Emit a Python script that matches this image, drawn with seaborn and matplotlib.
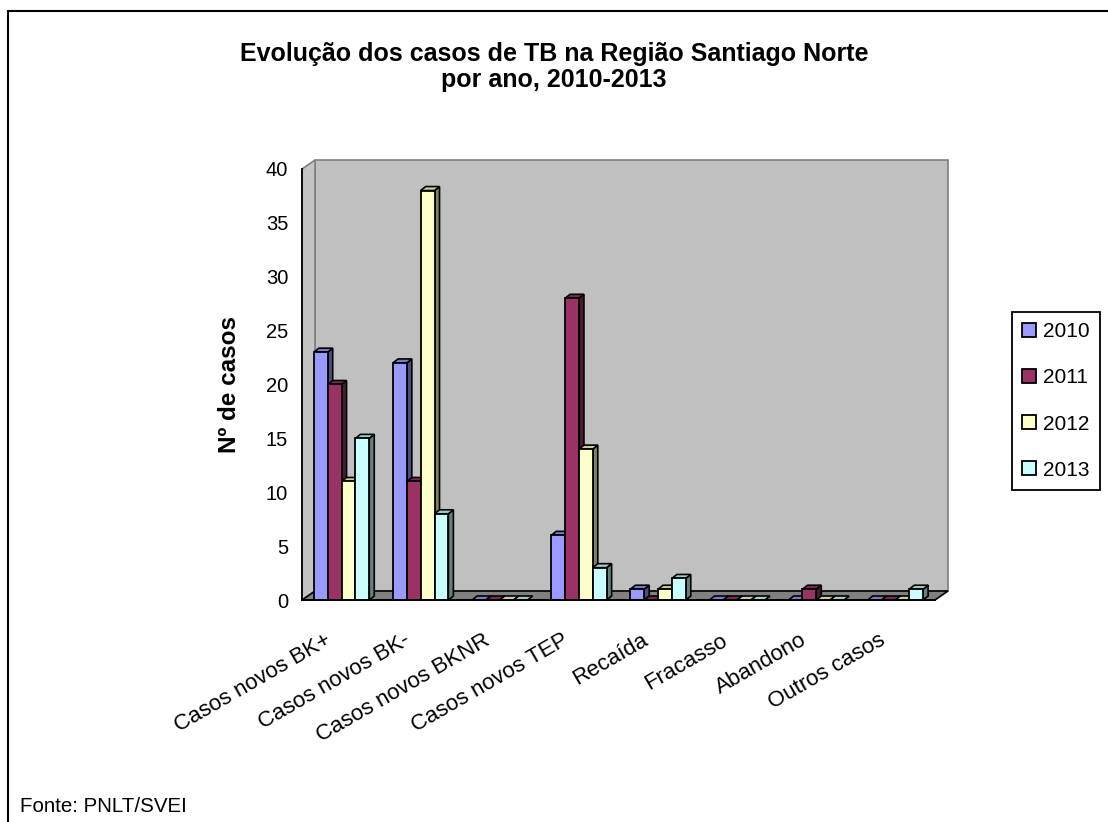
import matplotlib
matplotlib.use('Agg')
import matplotlib.pyplot as plt
import matplotlib.transforms as mtransforms
from matplotlib.patches import Polygon, Rectangle
import numpy as np
import pandas as pd
import seaborn as sns

# Data
categories = ['Casos novos BK+', 'Casos novos BK-', 'Casos novos BKNR', 'Casos novos TEP',
              'Recaída', 'Fracasso', 'Abandono', 'Outros casos']
years = ['2010', '2011', '2012', '2013']
cases_2010 = [23, 22, 0, 6, 1, 0, 0, 0]
cases_2011 = [20, 11, 0, 28, 0, 0, 1, 0]
cases_2012 = [11, 38, 0, 14, 1, 0, 0, 0]
cases_2013 = [15, 8, 0, 3, 2, 0, 0, 1]
colors = ['#9999ff', '#993366', '#ffffcc', '#ccffff']

rows = []
for yr, vals in zip(years, [cases_2010, cases_2011, cases_2012, cases_2013]):
    for cat, v in zip(categories, vals):
        rows.append({'categoria': cat, 'ano': yr, 'casos': v})
df = pd.DataFrame(rows)

sns.set_style('white')
plt.rcParams['font.family'] = ['Liberation Sans', 'DejaVu Sans']
plt.rcParams['text.color'] = 'black'
plt.rcParams['axes.labelcolor'] = 'black'
plt.rcParams['xtick.color'] = 'black'
plt.rcParams['ytick.color'] = 'black'

W, H = 1108, 822
fig = plt.figure(figsize=(W / 100, H / 100), dpi=100)
ax = fig.add_axes([302 / W, (H - 600) / H, (935 - 302) / W, (600 - 169) / H])
ax.set_facecolor('none')

sns.barplot(data=df, x='categoria', y='casos', hue='ano', hue_order=years,
            palette=colors, width=0.7, edgecolor='black', linewidth=1.3,
            saturation=1, ax=ax, legend=True)

ax.set_xlim(-0.5, len(categories) - 0.5)
ax.set_ylim(0, 40)
ax.set_yticks(range(0, 41, 5))
ax.set_xlabel('')
ax.set_ylabel('Nº de casos', fontsize=17.5, fontweight='bold', labelpad=18)

for s in ['top', 'right']:
    ax.spines[s].set_visible(False)
for s in ['left', 'bottom']:
    ax.spines[s].set_color('black')
    ax.spines[s].set_linewidth(1.3)
    ax.spines[s].set_zorder(20)

ax.tick_params(axis='y', direction='out', length=6, width=1.3, labelsize=14.5, pad=4)
ax.set_xticks(np.arange(-0.5, len(categories), 1.0), minor=True)
ax.tick_params(axis='x', which='minor', direction='out', length=7, width=1.3)
ax.tick_params(axis='x', which='major', length=0, labelsize=16)
off = mtransforms.ScaledTranslation(-0.17, -0.25, fig.dpi_scale_trans)
for lbl in ax.get_xticklabels():
    lbl.set_rotation(30)
    lbl.set_ha('right')
    lbl.set_va('top')
    lbl.set_rotation_mode('anchor')
    lbl.set_transform(lbl.get_transform() + off)

# pseudo-3D walls and floor
dx, dy = 13, 9
ident = mtransforms.IdentityTransform()
corners = ax.transAxes.transform([[0, 0], [1, 0], [1, 1], [0, 1]])
back = corners + [dx, dy]
wall_style = dict(closed=True, transform=ident, clip_on=False, linewidth=1.2)
ax.add_patch(Polygon(back, facecolor='#c0c0c0', edgecolor='#808080', zorder=0.5, **wall_style))
ax.add_patch(Polygon([corners[0], corners[3], back[3], back[0]], facecolor='#c4c4c4',
                     edgecolor='#808080', zorder=0.6, **wall_style))
ax.add_patch(Polygon([corners[0], corners[1], back[1], back[0]], facecolor='#808080',
                     edgecolor='black', zorder=0.7, **wall_style))

# 3D faces on bars
bdx, bdy = 5, 4
bars = [p for c in ax.containers for p in c]
bars.sort(key=lambda p: p.get_x())
for i, p in enumerate(bars):
    z = 2 + i * 0.01
    x0, y0, w, h = p.get_x(), p.get_y(), p.get_width(), p.get_height()
    (ax0, ay0), (ax1, ay1) = ax.transData.transform([[x0, y0], [x0 + w, y0 + h]])
    fc = np.array(matplotlib.colors.to_rgb(p.get_facecolor()))
    top = [(ax0, ay1), (ax1, ay1), (ax1 + bdx, ay1 + bdy), (ax0 + bdx, ay1 + bdy)]
    sidep = [(ax1, ay0), (ax1, ay1), (ax1 + bdx, ay1 + bdy), (ax1 + bdx, ay0 + bdy)]
    face_style = dict(closed=True, transform=ident, clip_on=False, edgecolor='black', linewidth=1.2, zorder=z)
    ax.add_patch(Polygon(sidep, facecolor=fc * 0.5, **face_style))
    ax.add_patch(Polygon(top, facecolor=fc * 0.8, **face_style))
    p.set_zorder(z + 0.005)

leg = ax.legend(loc='center left', bbox_to_anchor=(1012 / W, 1 - 401 / H),
                bbox_transform=fig.transFigure, fontsize=15, frameon=True,
                fancybox=False, framealpha=1, edgecolor='black', title=None,
                handlelength=0.65, handleheight=0.65, labelspacing=1.3,
                handletextpad=0.35, borderpad=0.5, borderaxespad=0)
leg.get_frame().set_linewidth(1.3)
leg.set_zorder(30)

fig.text(0.5, 1 - 67 / H, 'Evolução dos casos de TB na Região Santiago Norte\npor ano, 2010-2013',
         ha='center', va='center', fontsize=18, fontweight='bold', linespacing=1.15)
fig.text(20 / W, 1 - 806 / H, 'Fonte: PNLT/SVEI', ha='left', va='center', fontsize=14.8)

# outer frame of the original chart object
fig.add_artist(Rectangle((8 / W, -0.1), 1.2, 1.1 - 11 / H, transform=fig.transFigure,
                         fill=False, edgecolor='black', linewidth=1.5, clip_on=False))

fig.savefig('out.png', dpi=100)
